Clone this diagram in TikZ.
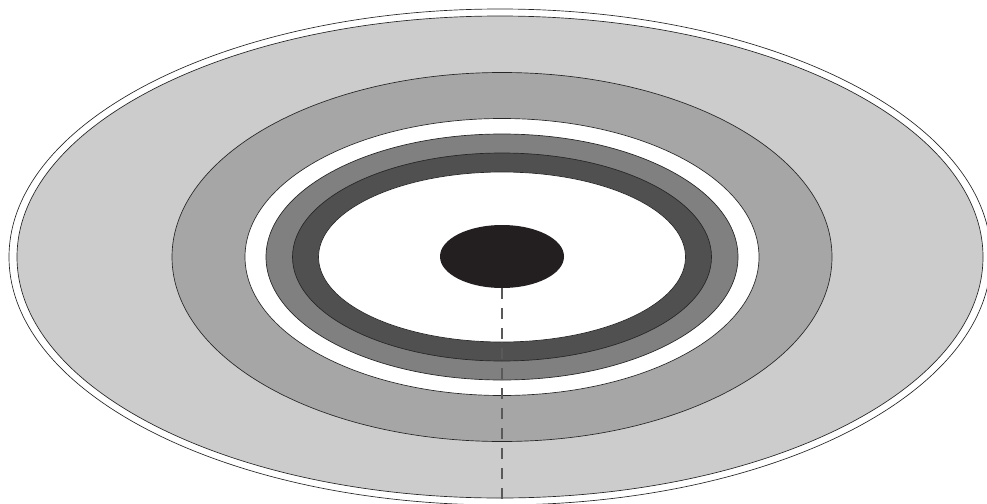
\documentclass[tikz,border=0pt]{standalone}
\usetikzlibrary{shapes.geometric}

\definecolor{ringlight}{RGB}{204,204,204}
\definecolor{ringmid}{RGB}{166,166,166}
\definecolor{ringgray}{RGB}{128,128,128}
\definecolor{ringdark}{RGB}{80,80,80}
\definecolor{hubblack}{RGB}{35,31,32}

\begin{document}
\begin{tikzpicture}[
    x=0.75pt,
    y=-0.75pt,
    ring/.style={
        draw=black!85,
        line width=0.5pt
    },
    hub/.style={
        ellipse,
        fill=hubblack,
        minimum width=124*0.75pt,
        minimum height=63*0.75pt,
        inner sep=0pt
    },
    axis/.style={
        draw=black!65,
        line width=0.8pt,
        dash pattern=on 8.25pt off 6.75pt
    }
]

% Frame
\useasboundingbox (0,0) rectangle (987,503);
\clip (0,0) rectangle (987,503);

% Outer rings
\path[ring, fill=white] (500,257) ellipse (491 and 248);
\path[ring, fill=ringlight] (500,257) ellipse (483 and 241);
\path[ring, fill=ringmid] (502,257) ellipse (330 and 184.5);

% Inner rings
\path[ring, fill=white] (502,257) ellipse (257 and 138.5);
\path[ring, fill=ringgray] (502,257) ellipse (236 and 123);
\path[ring, fill=ringdark] (502,257) ellipse (209.5 and 104);
\path[ring, fill=white] (502,257) ellipse (183.5 and 85);

% Centre and axis
\node[hub] (core) at (502,256.5) {};
\coordinate (base) at (502,503);
\draw[axis] (core.south) -- (base);

\end{tikzpicture}
\end{document}
